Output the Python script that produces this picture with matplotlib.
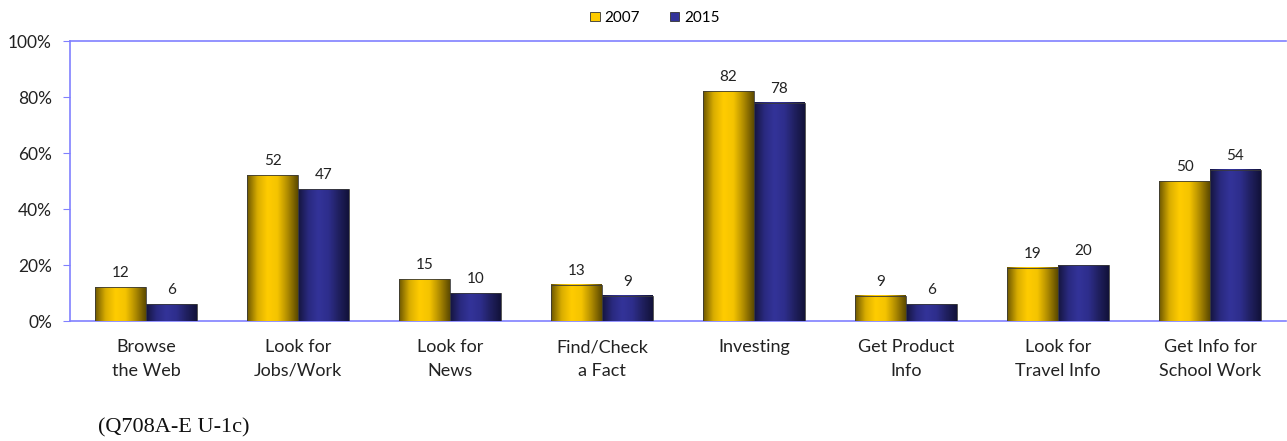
import matplotlib.pyplot as plt
from matplotlib.patches import Patch
import numpy as np
from matplotlib.colors import LinearSegmentedColormap

categories = ["Browse\nthe Web", "Look for\nJobs/Work", "Look for\nNews", "Find/Check\na Fact",
              "Investing", "Get Product\nInfo", "Look for\nTravel Info", "Get Info for\nSchool Work"]
v2007 = [12, 52, 15, 13, 82, 9, 19, 50]
v2015 = [6, 47, 10, 9, 78, 6, 20, 54]

plt.rcParams['font.family'] = ['Lato', 'DejaVu Sans']

axis_col = "#8080ff"
yellow_cm = LinearSegmentedColormap.from_list("y", ["#6e5800", "#d9ad00", "#ffcc00", "#f5c400", "#b08c00", "#5e4b00"])
blue_cm = LinearSegmentedColormap.from_list("b", ["#15153f", "#2a2a80", "#333399", "#2e2e8c", "#202060", "#12123a"])

fig = plt.figure(figsize=(12.87, 4.41), dpi=100)
ax = fig.add_axes([70/1287, 1 - 321/441, 1216/1287, 280/441])

x = np.arange(len(categories))
w = 0.335
b1 = ax.bar(x - w/2, v2007, w, facecolor="none", edgecolor="#3a3a3a", linewidth=0.6, zorder=4)
b2 = ax.bar(x + w/2, v2015, w, facecolor="none", edgecolor="#3a3a3a", linewidth=0.6, zorder=4)

# horizontal gradient fill for each bar
grad = np.linspace(0, 1, 64).reshape(1, -1)
for bars, cm in [(b1, yellow_cm), (b2, blue_cm)]:
    for r in bars:
        x0, y0 = r.get_x(), r.get_y()
        ax.imshow(grad, cmap=cm, extent=(x0, x0 + r.get_width(), y0, y0 + r.get_height()),
                  aspect='auto', zorder=3, interpolation='bicubic')

for bars, vals in [(b1, v2007), (b2, v2015)]:
    for r, v in zip(bars, vals):
        ax.annotate(str(v), (r.get_x() + r.get_width()/2, v), xytext=(0, 5),
                    textcoords="offset points", ha="center", va="bottom", fontsize=11, color="#222222")

ax.set_xlim(-0.5, len(categories) - 0.5)
ax.set_ylim(0, 100)
ax.set_yticks(range(0, 101, 20))
ax.set_yticklabels([f"{t}%" for t in range(0, 101, 20)], fontsize=12.5, color="#222222")
ax.set_xticks(x)
ax.set_xticklabels(categories, fontsize=13, color="#222222", linespacing=1.6)
ax.tick_params(axis='x', length=0, pad=13)
ax.tick_params(axis='y', length=5, color=axis_col, pad=8)

for s in ["left", "bottom", "top"]:
    ax.spines[s].set_color(axis_col)
    ax.spines[s].set_linewidth(1.2)
ax.spines["right"].set_visible(False)

handles = [Patch(facecolor="#ffcc00", edgecolor="#333333", linewidth=0.6, label="2007"),
           Patch(facecolor="#333399", edgecolor="#333333", linewidth=0.6, label="2015")]
fig.legend(handles=handles, loc="center", bbox_to_anchor=(655/1287, 1 - 18/441), ncol=2,
           frameon=False, fontsize=11, handlelength=0.6, handleheight=0.6, handletextpad=0.3,
           columnspacing=2.0)

fig.text(98/1287, 1 - 428/441, "(Q708A-E U-1c)", family="Liberation Serif", fontsize=16,
         va="center", ha="left", color="#111111")

fig.savefig("out.png", dpi=100)
